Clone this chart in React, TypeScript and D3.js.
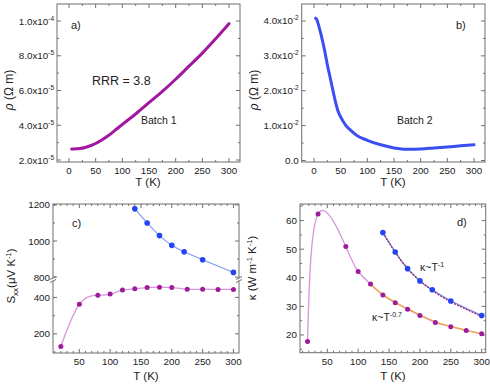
import React, { useRef, useEffect } from "react";
import * as d3 from "d3";

// a) batch 1 resistivity (Ohm m)
const tA = [5, 10, 20, 30, 40, 50, 60, 70, 80, 90, 100, 125, 150, 175, 200, 225, 250, 275, 300];
const rhoA = [2.63e-5, 2.64e-5, 2.66e-5, 2.72e-5, 2.82e-5, 2.95e-5, 3.12e-5, 3.32e-5, 3.55e-5, 3.8e-5, 4.05e-5,
  4.65e-5, 5.3e-5, 5.95e-5, 6.65e-5, 7.4e-5, 8.15e-5, 8.98e-5, 9.85e-5];

// b) batch 2 resistivity (Ohm m)
const tB = [3, 5, 10, 15, 20, 25, 30, 35, 40, 45, 50, 60, 70, 80, 100, 125, 150, 175, 200, 225, 250, 275, 300];
const rhoB = [4.08e-2, 4.05e-2, 3.8e-2, 3.5e-2, 3.15e-2, 2.75e-2, 2.4e-2, 2.05e-2, 1.7e-2, 1.42e-2, 1.25e-2, 1.0e-2,
  0.85e-2, 0.72e-2, 0.58e-2, 0.45e-2, 0.36e-2, 0.32e-2, 0.33e-2, 0.36e-2, 0.39e-2, 0.42e-2, 0.45e-2];

// c) Seebeck
const tS1 = [20, 50, 80, 100, 120, 140, 160, 180, 200, 225, 250, 275, 300];
const seebeck1 = [131, 362, 412, 418, 440, 447, 454, 456, 454, 445, 445, 444, 444];
const tS2 = [140, 160, 180, 200, 220, 250, 300];
const seebeck2 = [1178, 1100, 1030, 976, 940, 896, 826];

// d) thermal conductivity
const tK1 = [18, 35, 80, 100, 120, 140, 160, 180, 200, 225, 250, 275, 300];
const kappa1 = [17.7, 62.3, 50.9, 42.2, 37.8, 34.0, 31.3, 29.0, 26.8, 24.4, 22.9, 21.6, 20.4];
const tK2 = [140, 160, 180, 200, 220, 250, 300];
const kappa2 = [55.8, 49.0, 43.2, 38.9, 35.8, 31.9, 26.8];
// fit curves
const tFit07 = [120, 140, 160, 180, 200, 225, 250, 275, 300];
const fit07 = [37.6, 34.1, 31.4, 29.1, 27.0, 24.6, 23.0, 21.6, 20.4];
const tFit1 = [140, 160, 180, 200, 220, 250, 300];
const fit1 = [55.8, 48.9, 43.3, 39.0, 35.6, 31.6, 26.5];

const tTicks = [0, 50, 100, 150, 200, 250, 300];
const tTicksLow = [50, 100, 150, 200, 250, 300];

const FONT = "'Liberation Sans', Arial, sans-serif";
const AXIS = "#6e6e6e";
const TXT = "#222";

export default function App() {
  const svgRef = useRef<SVGSVGElement>(null);

  useEffect(() => {
    const svg = d3.select(svgRef.current);
    svg.selectAll("*").remove();
    svg.attr("font-family", FONT);

    const box = (x0, x1, y0, y1) => {
      svg.append("rect").attr("x", x0).attr("y", y0).attr("width", x1 - x0).attr("height", y1 - y0)
        .attr("fill", "none").attr("stroke", AXIS).attr("stroke-width", 1);
    };

    const xTicks = (x, y0, y1, major, minor) => {
      minor.forEach((v) => {
        svg.append("line").attr("x1", x(v)).attr("x2", x(v)).attr("y1", y1).attr("y2", y1 - 2).attr("stroke", AXIS);
        svg.append("line").attr("x1", x(v)).attr("x2", x(v)).attr("y1", y0).attr("y2", y0 + 2).attr("stroke", AXIS);
      });
      major.forEach((v) => {
        svg.append("line").attr("x1", x(v)).attr("x2", x(v)).attr("y1", y1).attr("y2", y1 - 4).attr("stroke", AXIS);
        svg.append("line").attr("x1", x(v)).attr("x2", x(v)).attr("y1", y0).attr("y2", y0 + 4).attr("stroke", AXIS);
        svg.append("text").attr("x", x(v)).attr("y", y1 + 12).attr("text-anchor", "middle")
          .attr("font-size", 9.8).attr("fill", TXT).text(v);
      });
    };

    const yTicks = (y, x0, x1, major, minor, label) => {
      minor.forEach((v) => {
        svg.append("line").attr("x1", x0).attr("x2", x0 + 2).attr("y1", y(v)).attr("y2", y(v)).attr("stroke", AXIS);
        svg.append("line").attr("x1", x1).attr("x2", x1 - 2).attr("y1", y(v)).attr("y2", y(v)).attr("stroke", AXIS);
      });
      major.forEach((v) => {
        svg.append("line").attr("x1", x0).attr("x2", x0 + 4).attr("y1", y(v)).attr("y2", y(v)).attr("stroke", AXIS);
        svg.append("line").attr("x1", x1).attr("x2", x1 - 4).attr("y1", y(v)).attr("y2", y(v)).attr("stroke", AXIS);
        const t = svg.append("text").attr("x", x0 - 3).attr("y", y(v) + 3.5).attr("text-anchor", "end")
          .attr("font-size", 9.8).attr("fill", TXT);
        label(t, v);
      });
    };

    const sciLabel = (exp) => (t, v) => {
      const m = v / Math.pow(10, exp);
      t.append("tspan").text(m.toFixed(1) + "x10");
      t.append("tspan").attr("dy", -4).attr("font-size", 6.5).text(String(exp));
    };
    const plainLabel = (t, v) => t.text(v);

    const label = (x, y, s, size) =>
      svg.append("text").attr("x", x).attr("y", y).attr("font-size", size).attr("fill", TXT).text(s);

    const xTitle = (cx, y) =>
      svg.append("text").attr("x", cx).attr("y", y).attr("text-anchor", "middle").attr("font-size", 11.5)
        .attr("fill", TXT).text("T (K)");

    const rhoTitle = (cx, cy) => {
      const t = svg.append("text").attr("transform", `translate(${cx},${cy}) rotate(-90)`)
        .attr("text-anchor", "middle").attr("font-size", 12).attr("fill", TXT);
      t.append("tspan").attr("font-style", "italic").text("ρ");
      t.append("tspan").text(" (Ω m)");
    };

    // ===== panel a =====
    const xa = d3.scaleLinear().domain([-22.5, 320.6]).range([57, 240]);
    const ya = d3.scaleLinear().domain([1.885e-5, 1.098e-4]).range([162, 4]);
    box(57, 240, 4, 162);
    xTicks(xa, 4, 162, tTicks, [25, 75, 125, 175, 225, 275]);
    yTicks(ya, 57, 240, [2e-5, 4e-5, 6e-5, 8e-5, 1e-4], [3e-5, 5e-5, 7e-5, 9e-5],
      (t, v) => sciLabel(v >= 1e-4 - 1e-9 ? -4 : -5)(t, v));
    svg.append("path").datum(tA.map((t, i) => [t, rhoA[i]]))
      .attr("d", d3.line().x((d) => xa(d[0])).y((d) => ya(d[1])).curve(d3.curveMonotoneX))
      .attr("fill", "none").attr("stroke", "#a2179f").attr("stroke-width", 3).attr("stroke-linecap", "round");
    label(71, 29, "a)", 11);
    label(92, 85, "RRR = 3.8", 12.5);
    label(141, 124, "Batch 1", 10.5);
    xTitle(148, 186);
    rhoTitle(13, 90);

    // ===== panel b =====
    const xb = d3.scaleLinear().domain([-23, 320.6]).range([301.7, 485]);
    const yb = d3.scaleLinear().domain([-0.00043, 0.04487]).range([162, 4]);
    box(301.7, 485, 4, 162);
    xTicks(xb, 4, 162, tTicks, [25, 75, 125, 175, 225, 275]);
    yTicks(yb, 301.7, 485, [0, 0.01, 0.02, 0.03, 0.04], [0.005, 0.015, 0.025, 0.035],
      (t, v) => (v === 0 ? t.text("0.0") : sciLabel(-2)(t, v)));
    svg.append("path").datum(tB.map((t, i) => [t, rhoB[i]]))
      .attr("d", d3.line().x((d) => xb(d[0])).y((d) => yb(d[1])).curve(d3.curveMonotoneX))
      .attr("fill", "none").attr("stroke", "#3b4ef3").attr("stroke-width", 3).attr("stroke-linecap", "round");
    label(456, 29, "b)", 11);
    label(397, 124, "Batch 2", 10.5);
    xTitle(393, 186);
    rhoTitle(258, 90);

    // ===== panel c (broken y axis) =====
    const xc = d3.scaleLinear().domain([7.3, 309]).range([53, 239]);
    const ycUp = d3.scaleLinear().domain([795, 1205]).range([278, 204]);
    const ycLow = d3.scaleLinear().domain([95, 490]).range([353, 281]);
    box(53, 239, 204, 353);
    xTicks(xc, 204, 353, tTicksLow, d3.range(10, 310, 10).filter((v) => v % 50 !== 0));
    yTicks(ycUp, 53, 239, [800, 1000, 1200], [900, 1100], plainLabel);
    yTicks(ycLow, 53, 239, [200, 400], [300], plainLabel);
    [53, 239].forEach((bx) => {
      svg.append("rect").attr("x", bx - 2).attr("y", 278.3).attr("width", 4).attr("height", 2.4).attr("fill", "#fff");
      [278, 281].forEach((by) => {
        svg.append("line").attr("x1", bx - 3).attr("x2", bx + 3).attr("y1", by + 1.5).attr("y2", by - 1.5)
          .attr("stroke", AXIS).attr("stroke-width", 1);
      });
    });
    svg.append("path").datum(tS1.map((t, i) => [t, seebeck1[i]]))
      .attr("d", d3.line().x((d) => xc(d[0])).y((d) => ycLow(d[1])).curve(d3.curveNatural))
      .attr("fill", "none").attr("stroke", "#d994dc").attr("stroke-width", 1.3);
    svg.append("path").datum(tS2.map((t, i) => [t, seebeck2[i]]))
      .attr("d", d3.line().x((d) => xc(d[0])).y((d) => ycUp(d[1])).curve(d3.curveNatural))
      .attr("fill", "none").attr("stroke", "#7d98f6").attr("stroke-width", 1.1);
    svg.append("g").selectAll("circle").data(tS1.map((t, i) => [t, seebeck1[i]])).enter().append("circle")
      .attr("cx", (d) => xc(d[0])).attr("cy", (d) => ycLow(d[1])).attr("r", 2.5).attr("fill", "#9c1c9c");
    svg.append("g").selectAll("circle").data(tS2.map((t, i) => [t, seebeck2[i]])).enter().append("circle")
      .attr("cx", (d) => xc(d[0])).attr("cy", (d) => ycUp(d[1])).attr("r", 2.8).attr("fill", "#2443f2");
    label(72, 227, "c)", 11);
    xTitle(146, 380);
    {
      const t = svg.append("text").attr("transform", "translate(15,276) rotate(-90)")
        .attr("text-anchor", "middle").attr("font-size", 11.5).attr("fill", TXT);
      t.append("tspan").text("S");
      t.append("tspan").attr("dy", 3).attr("font-size", 8).text("xx");
      t.append("tspan").attr("dy", -3).text("(μV K");
      t.append("tspan").attr("dy", -4.5).attr("font-size", 7.5).text("-1");
      t.append("tspan").attr("dy", 4.5).text(")");
    }

    // ===== panel d =====
    const xd = d3.scaleLinear().domain([5.8, 306.5]).range([300, 485.7]);
    const yd = d3.scaleLinear().domain([13.8, 65.8]).range([352.7, 204]);
    box(300, 485.7, 204, 352.7);
    xTicks(xd, 204, 352.7, tTicksLow, d3.range(10, 310, 10).filter((v) => v % 50 !== 0));
    yTicks(yd, 300, 485.7, [20, 30, 40, 50, 60], [15, 25, 35, 45, 55, 65], plainLabel);
    const lineD = d3.line().x((d) => xd(d[0])).y((d) => yd(d[1]));
    svg.append("path").datum(tK1.map((t, i) => [t, kappa1[i]]))
      .attr("d", lineD.curve(d3.curveNatural)).attr("fill", "none").attr("stroke", "#d994dc").attr("stroke-width", 1.3);
    svg.append("path").datum(tFit07.map((t, i) => [t, fit07[i]]))
      .attr("d", lineD.curve(d3.curveNatural)).attr("fill", "none").attr("stroke", "#f4a845").attr("stroke-width", 1.4);
    svg.append("path").datum(tK2.map((t, i) => [t, kappa2[i]]))
      .attr("d", lineD.curve(d3.curveNatural)).attr("fill", "none").attr("stroke", "#7d98f6").attr("stroke-width", 1.4);
    svg.append("path").datum(tFit1.map((t, i) => [t, fit1[i]]))
      .attr("d", lineD.curve(d3.curveNatural)).attr("fill", "none").attr("stroke", "#a02a55").attr("stroke-width", 1.3)
      .attr("stroke-dasharray", "2,1.2");
    svg.append("g").selectAll("circle").data(tK1.map((t, i) => [t, kappa1[i]])).enter().append("circle")
      .attr("cx", (d) => xd(d[0])).attr("cy", (d) => yd(d[1])).attr("r", 2.5).attr("fill", "#9c1c9c");
    svg.append("g").selectAll("circle").data(tK2.map((t, i) => [t, kappa2[i]])).enter().append("circle")
      .attr("cx", (d) => xd(d[0])).attr("cy", (d) => yd(d[1])).attr("r", 2.8).attr("fill", "#2443f2");
    label(457, 226, "d)", 11);
    {
      const t1 = svg.append("text").attr("x", 420).attr("y", 271).attr("font-size", 10.5).attr("fill", TXT);
      t1.append("tspan").text("κ~T");
      t1.append("tspan").attr("dy", -4).attr("font-size", 7).text("-1");
      const t2 = svg.append("text").attr("x", 372).attr("y", 321).attr("font-size", 10.5).attr("fill", TXT);
      t2.append("tspan").text("κ~T");
      t2.append("tspan").attr("dy", -4).attr("font-size", 7).text("-0.7");
    }
    xTitle(393, 380);
    {
      const t = svg.append("text").attr("transform", "translate(256,268) rotate(-90)")
        .attr("text-anchor", "middle").attr("font-size", 11.5).attr("fill", TXT);
      t.append("tspan").text("κ (W m");
      t.append("tspan").attr("dy", -4.5).attr("font-size", 7.5).text("-1");
      t.append("tspan").attr("dy", 4.5).text(" K");
      t.append("tspan").attr("dy", -4.5).attr("font-size", 7.5).text("-1");
      t.append("tspan").attr("dy", 4.5).text(")");
    }
  }, []);

  return (
    <div style={{ position: "absolute", left: 0, top: 0, background: "#fff" }}>
      <svg ref={svgRef} width={490} height={387} style={{ display: "block" }} />
    </div>
  );
}
